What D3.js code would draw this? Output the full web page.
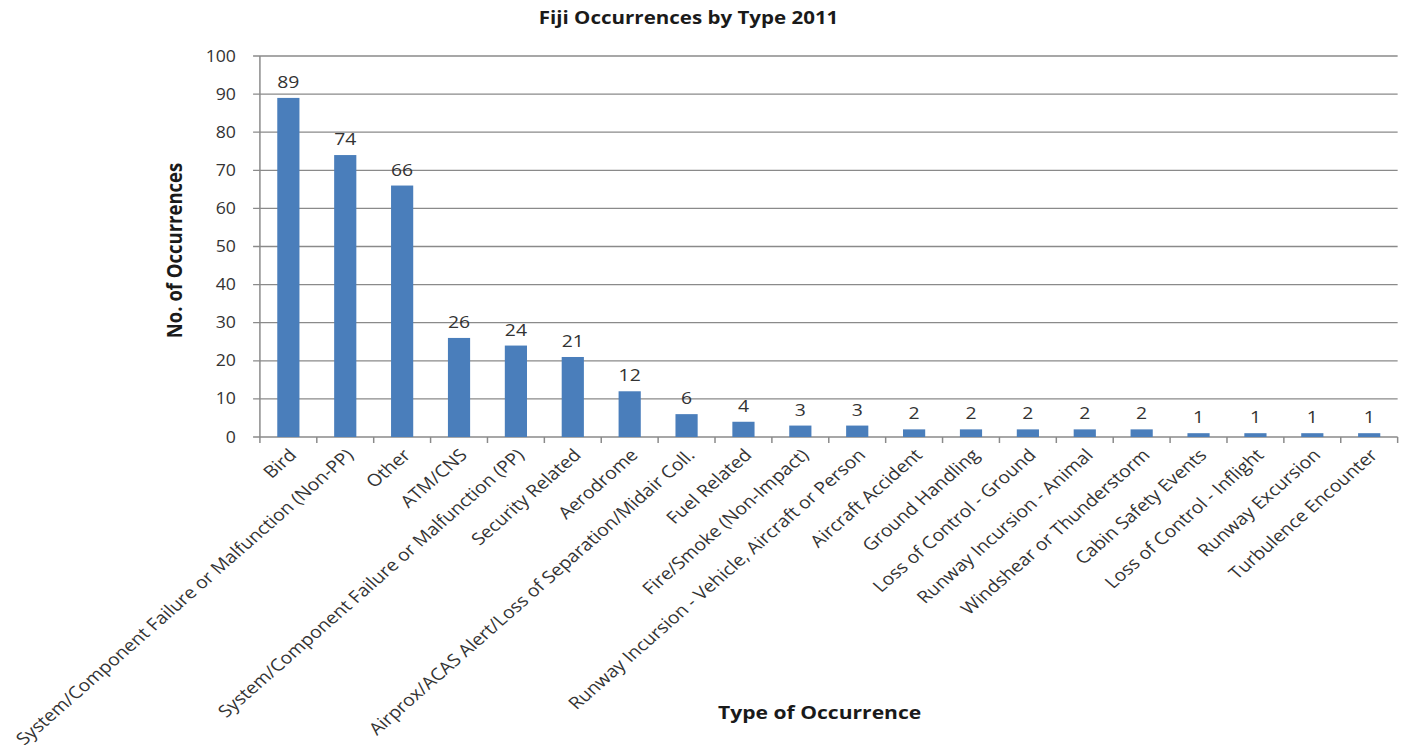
<!DOCTYPE html>
<html>
<head>
<meta charset="utf-8">
<script src="https://cdn.jsdelivr.net/npm/d3@7"></script>
<style>
  body { margin: 0; background: #fff; }
  svg text { font-family: "Open Sans", sans-serif; }
</style>
</head>
<body>
<svg id="chart" width="1411" height="749"></svg>
<script>
const categories = [
  'Bird',
  'System/Component Failure or Malfunction (Non-PP)',
  'Other',
  'ATM/CNS',
  'System/Component Failure or Malfunction (PP)',
  'Security Related',
  'Aerodrome',
  'Airprox/ACAS Alert/Loss of Separation/Midair Coll.',
  'Fuel Related',
  'Fire/Smoke (Non-Impact)',
  'Runway Incursion - Vehicle, Aircraft or Person',
  'Aircraft Accident',
  'Ground Handling',
  'Loss of Control - Ground',
  'Runway Incursion - Animal',
  'Windshear or Thunderstorm',
  'Cabin Safety Events',
  'Loss of Control - Inflight',
  'Runway Excursion',
  'Turbulence Encounter'
]
const counts = [89, 74, 66, 26, 24, 21, 12, 6, 4, 3, 3, 2, 2, 2, 2, 2, 1, 1, 1, 1]
const yTicks = [0, 10, 20, 30, 40, 50, 60, 70, 80, 90, 100]

// the original picture is stretched sideways, so draw narrow and scale x
const stretch = 1.14
const margin = { left: 228, right: 1226, top: 56, bottom: 437 }
const gridColor = '#8a8a8a'
const barColor = '#4a7ebb'

const svg = d3.select('#chart')
const root = svg.append('g').attr('transform', `scale(${stretch},1)`)

const x = d3.scaleBand()
  .domain(categories)
  .range([margin.left, margin.right])
  .padding(0)

const y = d3.scaleLinear()
  .domain([0, 100])
  .range([margin.bottom, margin.top])

// gridlines + y ticks
root.append('g')
  .selectAll('line')
  .data(yTicks)
  .enter()
    .append('line')
    .attr('x1', margin.left - 6)
    .attr('x2', margin.right)
    .attr('y1', d => y(d))
    .attr('y2', d => y(d))
    .style('stroke', gridColor)
    .style('stroke-width', 1.3)

root.append('g')
  .selectAll('text')
  .data(yTicks)
  .enter()
    .append('text')
    .attr('x', margin.left - 21)
    .attr('y', d => y(d))
    .attr('dy', '0.36em')
    .attr('text-anchor', 'end')
    .style('font-size', '15.5px')
    .style('fill', '#333')
    .text(d => d)

// y axis line
root.append('line')
  .attr('x1', margin.left).attr('x2', margin.left)
  .attr('y1', margin.top).attr('y2', margin.bottom)
  .style('stroke', gridColor)
  .style('stroke-width', 1.3)

// x ticks at category boundaries
const boundaries = categories.map(c => x(c)).concat([margin.right])
root.append('g')
  .selectAll('line')
  .data(boundaries)
  .enter()
    .append('line')
    .attr('x1', d => d).attr('x2', d => d)
    .attr('y1', margin.bottom).attr('y2', margin.bottom + 6)
    .style('stroke', gridColor)
    .style('stroke-width', 1.3)

// bars
const barW = x.bandwidth() * 0.39
root.append('g')
  .selectAll('rect')
  .data(counts)
  .enter()
    .append('rect')
    .attr('x', (d, i) => x(categories[i]) + x.bandwidth() / 2 - barW / 2)
    .attr('y', d => y(d))
    .attr('width', barW)
    .attr('height', d => y(0) - y(d))
    .style('fill', barColor)

// value labels
root.append('g')
  .selectAll('text')
  .data(counts)
  .enter()
    .append('text')
    .attr('x', (d, i) => x(categories[i]) + x.bandwidth() / 2)
    .attr('y', d => y(d) - 10)
    .attr('text-anchor', 'middle')
    .style('font-size', '17px')
    .style('fill', '#333')
    .text(d => d)

// category labels
root.append('g')
  .selectAll('text')
  .data(categories)
  .enter()
    .append('text')
    .attr('transform', d => `translate(${x(d) + x.bandwidth() / 2 + 4},${margin.bottom + 15}) rotate(-45)`)
    .attr('dy', '0.35em')
    .attr('text-anchor', 'end')
    .style('font-size', '17px')
    .style('fill', '#333')
    .text(d => d)

// titles
root.append('text')
  .attr('x', 604)
  .attr('y', 24)
  .attr('text-anchor', 'middle')
  .style('font-size', '18px')
  .style('font-weight', 'bold')
  .style('fill', '#1a1a1a')
  .text('Fiji Occurrences by Type 2011')

root.append('text')
  .attr('transform', `translate(153,${(margin.top + margin.bottom) / 2 + 4}) rotate(-90)`)
  .attr('text-anchor', 'middle')
  .attr('dy', '0.35em')
  .style('font-size', '18.5px')
  .style('font-weight', 'bold')
  .style('fill', '#1a1a1a')
  .text('No. of Occurrences')

root.append('text')
  .attr('x', 719)
  .attr('y', 719)
  .attr('text-anchor', 'middle')
  .style('font-size', '18.5px')
  .style('font-weight', 'bold')
  .style('fill', '#1a1a1a')
  .text('Type of Occurrence')
</script>
</body>
</html>
